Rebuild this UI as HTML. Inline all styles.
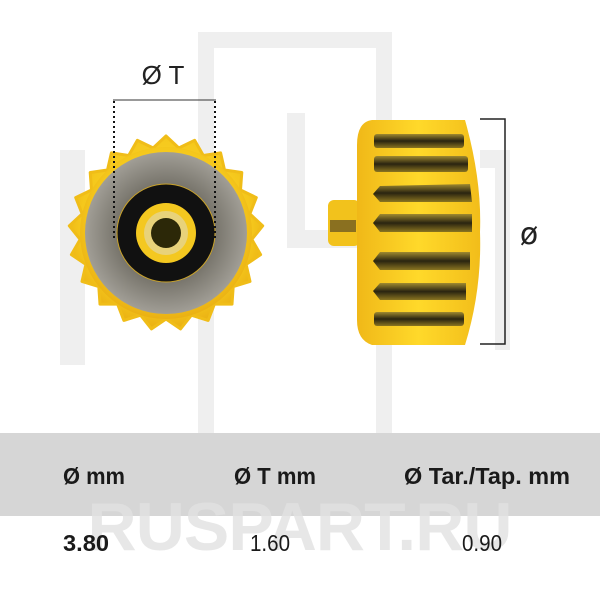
<!DOCTYPE html>
<html><head><meta charset="utf-8"><style>
html,body{margin:0;padding:0;background:#fff;}
svg{display:block;}
</style></head><body>
<svg width="600" height="600" viewBox="0 0 600 600" xmlns="http://www.w3.org/2000/svg">
<defs>
<radialGradient id="gold" cx="50%" cy="45%" r="55%">
<stop offset="0" stop-color="#ffe23a"/><stop offset="0.8" stop-color="#f5c81c"/><stop offset="1" stop-color="#eab013"/>
</radialGradient>
<radialGradient id="grey" cx="50%" cy="50%" r="50%">
<stop offset="0.6" stop-color="#77746b"/><stop offset="1" stop-color="#a19e96"/>
</radialGradient>
<linearGradient id="side" x1="0" y1="0" x2="1" y2="0">
<stop offset="0" stop-color="#f0b818"/><stop offset="0.5" stop-color="#ffd92a"/><stop offset="1" stop-color="#f2bd1a"/>
</linearGradient>
<linearGradient id="groove" x1="0" y1="0" x2="0" y2="1">
<stop offset="0" stop-color="#a08a30"/><stop offset="0.5" stop-color="#2a2410"/><stop offset="1" stop-color="#8a7420"/>
</linearGradient>
</defs>
<g fill="#efefef">
<rect x="198" y="32" width="194" height="16"/>
<rect x="198" y="32" width="16" height="430"/>
<rect x="376" y="32" width="16" height="430"/>
<rect x="287" y="113" width="18" height="135"/>
<rect x="287" y="230" width="80" height="18"/>
<rect x="480" y="150" width="30" height="18"/>
<rect x="495" y="150" width="15" height="200"/>
<rect x="60" y="150" width="25" height="215"/>
</g>
<rect x="0" y="433" width="600" height="83" fill="#d6d6d6"/>
<text x="300" y="550" text-anchor="middle" font-family="Liberation Sans, sans-serif" font-weight="bold" font-size="68" fill="#e2e2e2" opacity="0.8" textLength="425">RUSPART.RU</text>
<!-- left crown -->
<polygon fill="url(#gold)" stroke="#f0bd18" stroke-width="3" stroke-linejoin="round" points="166,136 178.8,148 194.6,140.3 203.3,155.5 220.6,152.9 224.5,170 241.8,172.5 240.5,190 256.3,197.6 249.8,213.9 262.7,225.8 251.8,239.4 260.6,254.6 246.1,264.4 250,281.5 233.2,286.6 232,304.1 214.4,304.1 208.1,320.4 191.4,315.2 180.5,328.9 166,319 151.5,328.9 140.6,315.2 123.9,320.4 117.6,304.1 100,304.1 98.8,286.6 82,281.5 85.9,264.4 71.4,254.6 80.2,239.4 69.3,225.8 82.2,213.9 75.7,197.6 91.5,190 90.2,172.5 107.5,170 111.4,152.9 128.7,155.5 137.4,140.3 153.2,148"/>
<circle cx="166" cy="233" r="86" fill="url(#gold)"/>
<circle cx="166" cy="233" r="81" fill="url(#grey)"/>
<circle cx="166" cy="233" r="49" fill="#111" stroke="#c9a22a" stroke-width="1"/>
<circle cx="166" cy="233" r="30" fill="#f4c820"/>
<circle cx="166" cy="233" r="22" fill="#e8d27a"/>
<circle cx="166" cy="233" r="15" fill="#2c2808"/>
<line x1="113" y1="100" x2="216" y2="100" stroke="#333" stroke-width="1"/>
<line x1="114" y1="101" x2="114" y2="238" stroke="#111" stroke-width="2" stroke-dasharray="2,3"/>
<line x1="215" y1="101" x2="215" y2="238" stroke="#111" stroke-width="2" stroke-dasharray="2,3"/>
<text x="163" y="84" text-anchor="middle" font-family="Liberation Sans, sans-serif" font-size="26" fill="#222">Ø T</text>
<!-- right crown -->
<rect x="328" y="200" width="32" height="46" rx="6" fill="#f2c21c"/>
<rect x="330" y="220" width="26" height="12" fill="#8a7020"/>
<path d="M372,120 L465,120 Q482,180 480,232 Q482,290 465,345 L372,345 Q357,340 357,320 L357,145 Q357,122 372,120 Z" fill="url(#side)"/>
<g fill="url(#groove)">
<rect x="374" y="134" width="90" height="14" rx="3"/>
<rect x="374" y="156" width="94" height="16" rx="3"/>
<polygon points="380,186 470,184 472,202 380,202 373,194"/>
<polygon points="380,214 472,214 472,232 380,232 373,223"/>
<polygon points="380,252 470,252 470,270 380,270 373,261"/>
<polygon points="380,283 466,283 466,300 380,300 373,291"/>
<rect x="374" y="312" width="90" height="14" rx="3"/>
</g>
<path d="M480,119 H505 V344 H480" fill="none" stroke="#222" stroke-width="1.5"/>
<text x="529" y="244" text-anchor="middle" font-family="DejaVu Sans, sans-serif" font-size="30" fill="#222">ø</text>
<g font-family="Liberation Sans, sans-serif" font-weight="bold" font-size="23" fill="#1a1a1a">
<text x="63" y="484" textLength="62" lengthAdjust="spacingAndGlyphs">Ø mm</text>
<text x="234" y="484" textLength="82" lengthAdjust="spacingAndGlyphs">Ø T mm</text>
<text x="404" y="484" textLength="166" lengthAdjust="spacingAndGlyphs">Ø Tar./Tap. mm</text>
<text x="63" y="551" textLength="46" lengthAdjust="spacingAndGlyphs">3.80</text>
</g>
<g font-family="Liberation Sans, sans-serif" font-size="23" fill="#1a1a1a">
<text x="250" y="551" textLength="40" lengthAdjust="spacingAndGlyphs">1.60</text>
<text x="462" y="551" textLength="40" lengthAdjust="spacingAndGlyphs">0.90</text>
</g>
</svg>
</body></html>
